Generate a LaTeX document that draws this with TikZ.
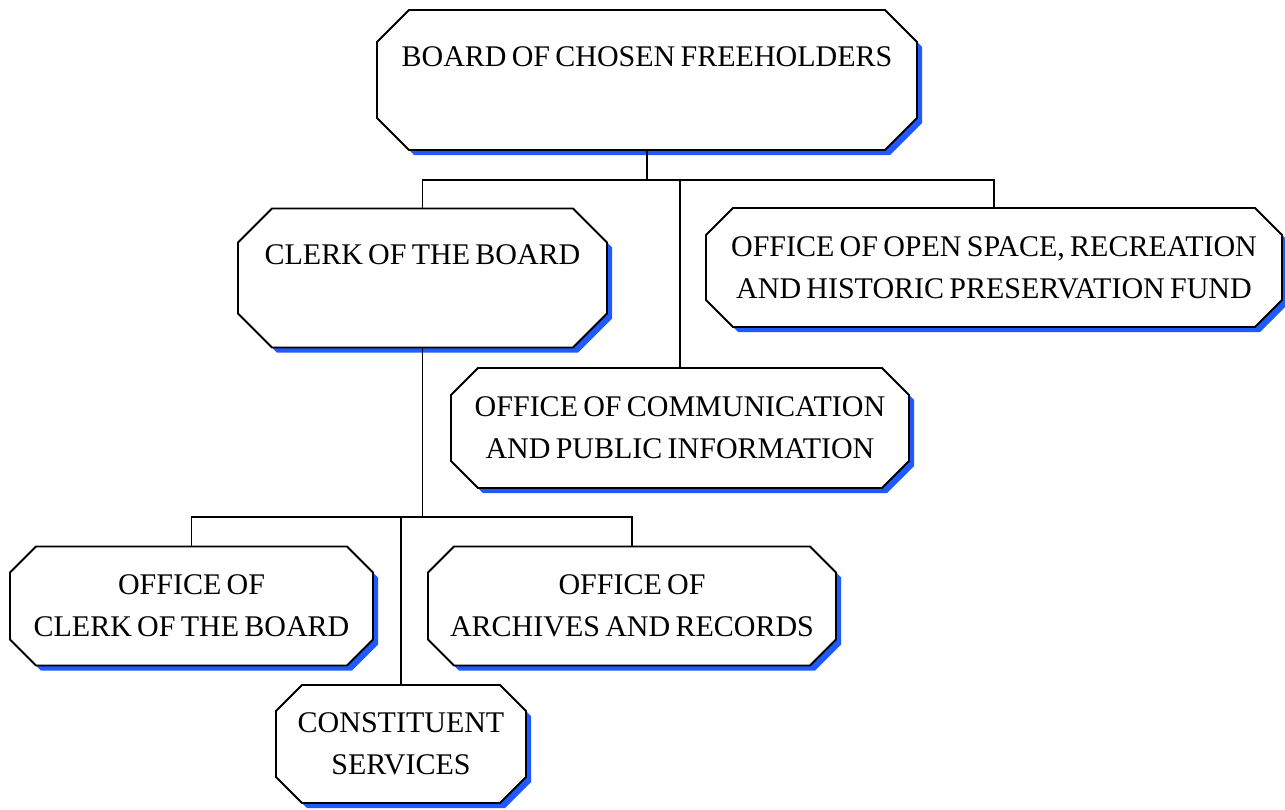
\documentclass[tikz,border=0pt]{standalone}
\usepackage{fontspec}
\setmainfont[WordSpace=0.7]{Liberation Serif}
\definecolor{shadowblue}{RGB}{30,90,255}
\tikzset{
  unittext/.style={draw=none, inner sep=0pt, align=center,
    font=\fontsize{30}{42}\selectfont},
  unitshape/.style={draw=black, line width=1.8pt, fill=white, line join=miter},
  unitshadow/.style={fill=shadowblue},
  link/.style={line width=1.5pt, draw=black}
}
% #1 name, #2 cx, #3 cy, #4 half width, #5 half height, #6 cut, #7 text
\newcommand{\octbox}[7]{%
  \begin{scope}[shift={(#2,#3)}]
    \fill[unitshadow] (-#4+#6+5,-#5+5) -- (#4-#6+5,-#5+5) -- (#4+5,-#5+#6+5) -- (#4+5,#5-#6+5) -- (#4-#6+5,#5+5) -- (-#4+#6+5,#5+5) -- (-#4+5,#5-#6+5) -- (-#4+5,-#5+#6+5) -- cycle;
    \draw[unitshape] (-#4+#6,-#5) -- (#4-#6,-#5) -- (#4,-#5+#6) -- (#4,#5-#6) -- (#4-#6,#5) -- (-#4+#6,#5) -- (-#4,#5-#6) -- (-#4,-#5+#6) -- cycle;
  \end{scope}
  \node[unittext, minimum width=2*#4 pt, minimum height=2*#5 pt] (#1) at (#2,#3) {#7};
}
\begin{document}
\begin{tikzpicture}[x=1pt,y=-1pt]
\useasboundingbox (0,0) rectangle (1285,809);
\octbox{board}{647}{80}{270}{70}{32}{BOARD OF CHOSEN FREEHOLDERS\\[4pt]\mbox{}}
\octbox{clerk}{422.5}{278}{184.5}{69.5}{34}{CLERK OF THE BOARD\\[4pt]\mbox{}}
\octbox{open}{994}{267.5}{288}{59.5}{27}{OFFICE OF OPEN SPACE, RECREATION\\AND HISTORIC PRESERVATION FUND}
\octbox{comm}{680}{428}{229}{60}{27}{OFFICE OF COMMUNICATION\\AND PUBLIC INFORMATION}
\octbox{oclerk}{191.5}{606}{181.5}{59.5}{26}{OFFICE OF\\CLERK OF THE BOARD}
\octbox{arch}{632}{606}{204}{59.5}{26}{OFFICE OF\\ARCHIVES AND RECORDS}
\octbox{const}{401}{744}{125}{59}{26}{CONSTITUENT\\SERVICES}
\coordinate (j1) at (647,180);
\coordinate (j2) at (422.5,517);
\draw[link] (board.south) -- (j1);
\draw[link] (clerk.north) |- (j1) -| (open.north);
\draw[link] (comm.north) -- (comm.north |- j1);
\draw[link] (clerk.south) -- (j2);
\draw[link] (oclerk.north) |- (j2) -| (arch.north);
\draw[link] (const.north) -- (const.north |- j2);
\end{tikzpicture}
\end{document}
